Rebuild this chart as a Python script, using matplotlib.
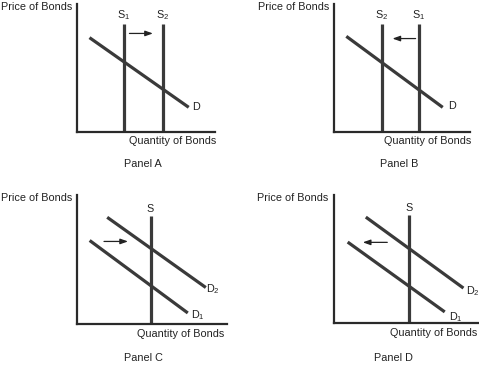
import matplotlib
matplotlib.use("Agg")
import matplotlib.pyplot as plt

plt.rcParams['font.family'] = ['Liberation Sans', 'DejaVu Sans']
plt.rcParams['mathtext.fontset'] = 'custom'
plt.rcParams['mathtext.rm'] = 'Liberation Sans'

# ---- data (quantity on x, price on y, arbitrary 0-10 units) ----
panel_names = ["Panel A", "Panel B", "Panel C", "Panel D"]
x_label = "Quantity of Bonds"
y_label = "Price of Bonds"

# Panel A: supply shifts right
a_supply_x = [3.4, 6.2]
a_supply_labels = ["S$_\\mathregular{1}$", "S$_\\mathregular{2}$"]
a_supply_top = 8.4
a_demand_x = [1.0, 8.0]
a_demand_y = [7.3, 2.0]
a_arrow_x = [3.8, 5.5]
a_arrow_y = 7.7

# Panel B: supply shifts left
b_supply_x = [3.5, 6.25]
b_supply_labels = ["S$_\\mathregular{2}$", "S$_\\mathregular{1}$"]
b_supply_top = 8.4
b_demand_x = [1.0, 7.9]
b_demand_y = [7.4, 2.0]
b_arrow_x = [6.0, 4.3]
b_arrow_y = 7.3

# Panel C: demand shifts right
c_supply_x = 4.9
c_supply_top = 8.4
c_d1_x = [0.93, 7.3]
c_d1_y = [6.4, 0.93]
c_d2_x = [2.1, 8.5]
c_d2_y = [8.2, 2.9]
c_arrow_x = [1.8, 3.4]
c_arrow_y = 6.4

# Panel D: demand shifts left
d_supply_x = 5.2
d_supply_top = 8.4
d_d1_x = [1.04, 7.6]
d_d1_y = [6.25, 0.94]
d_d2_x = [2.3, 8.9]
d_d2_y = [8.2, 2.8]
d_arrow_x = [3.7, 2.0]
d_arrow_y = 6.3

W, H = 479, 365
fig = plt.figure(figsize=(W / 100, H / 100), dpi=100)

def make_ax(x0, x1, ytop, ybot):
    ax = fig.add_axes([x0 / W, 1 - ybot / H, (x1 - x0) / W, (ybot - ytop) / H])
    ax.set_xlim(0, 10)
    ax.set_ylim(0, 10)
    for s in ['top', 'right']:
        ax.spines[s].set_visible(False)
    for s in ['left', 'bottom']:
        ax.spines[s].set_linewidth(1.6)
        ax.spines[s].set_color('#2a2a2a')
    ax.set_xticks([])
    ax.set_yticks([])
    ax.patch.set_alpha(0)
    return ax

LC = '#3a3a3a'
LW = 2.3
FS = 7.8
TC = '#222222'

def arrow(ax, xs, y):
    ax.annotate('', xy=(xs[1], y), xytext=(xs[0], y),
                arrowprops=dict(arrowstyle='-|>,head_length=0.45,head_width=0.16',
                                color='#222222', lw=0.9, shrinkA=0, shrinkB=0))

def common_text(ax, name, qx, name_x, price_x, qy=-0.7, ny=-2.5):
    ax.text(qx, qy, x_label, ha='center', va='center', fontsize=FS, color=TC, clip_on=False)
    ax.text(name_x, ny, name, ha='center', va='center', fontsize=FS, color=TC, clip_on=False)
    ax.text(price_x, 9.8, y_label, ha='right', va='center', fontsize=FS, color=TC, clip_on=False)

# Panel A
axA = make_ax(77, 215, 4, 132)
for sx, lab in zip(a_supply_x, a_supply_labels):
    axA.plot([sx, sx], [0, a_supply_top], color=LC, lw=LW, solid_capstyle='butt')
    axA.text(sx, 9.1, lab, ha='center', va='center', fontsize=FS, color=TC)
axA.plot(a_demand_x, a_demand_y, color=LC, lw=LW)
axA.text(8.6, 1.95, "D", ha='center', va='center', fontsize=FS, color=TC)
arrow(axA, a_arrow_x, a_arrow_y)
common_text(axA, panel_names[0], 6.9, 4.8, -0.36)

# Panel B
axB = make_ax(334, 470, 4, 132)
for sx, lab in zip(b_supply_x, b_supply_labels):
    axB.plot([sx, sx], [0, b_supply_top], color=LC, lw=LW, solid_capstyle='butt')
    axB.text(sx, 9.1, lab, ha='center', va='center', fontsize=FS, color=TC)
axB.plot(b_demand_x, b_demand_y, color=LC, lw=LW)
axB.text(8.7, 2.0, "D", ha='center', va='center', fontsize=FS, color=TC)
arrow(axB, b_arrow_x, b_arrow_y)
common_text(axB, panel_names[1], 6.9, 4.8, -0.37)

# Panel C
axC = make_ax(77, 227, 195, 324)
axC.plot([c_supply_x, c_supply_x], [0, c_supply_top], color=LC, lw=LW, solid_capstyle='butt')
axC.text(c_supply_x, 8.95, "S", ha='center', va='center', fontsize=FS, color=TC)
axC.plot(c_d1_x, c_d1_y, color=LC, lw=LW)
axC.plot(c_d2_x, c_d2_y, color=LC, lw=LW)
axC.text(9.05, 2.7, "D$_\\mathregular{2}$", ha='center', va='center', fontsize=FS, color=TC)
axC.text(8.05, 0.7, "D$_\\mathregular{1}$", ha='center', va='center', fontsize=FS, color=TC)
arrow(axC, c_arrow_x, c_arrow_y)
common_text(axC, panel_names[2], 6.9, 4.4, -0.33, qy=-0.75, ny=-2.6)

# Panel D
axD = make_ax(334, 478, 195, 323)
axD.plot([d_supply_x, d_supply_x], [0, d_supply_top], color=LC, lw=LW, solid_capstyle='butt')
axD.text(d_supply_x, 8.95, "S", ha='center', va='center', fontsize=FS, color=TC)
axD.plot(d_d1_x, d_d1_y, color=LC, lw=LW)
axD.plot(d_d2_x, d_d2_y, color=LC, lw=LW)
axD.text(9.65, 2.5, "D$_\\mathregular{2}$", ha='center', va='center', fontsize=FS, color=TC)
axD.text(8.45, 0.5, "D$_\\mathregular{1}$", ha='center', va='center', fontsize=FS, color=TC)
arrow(axD, d_arrow_x, d_arrow_y)
common_text(axD, panel_names[3], 6.9, 4.1, -0.42, qy=-0.8, ny=-2.7)

fig.savefig("out.png", dpi=100)
